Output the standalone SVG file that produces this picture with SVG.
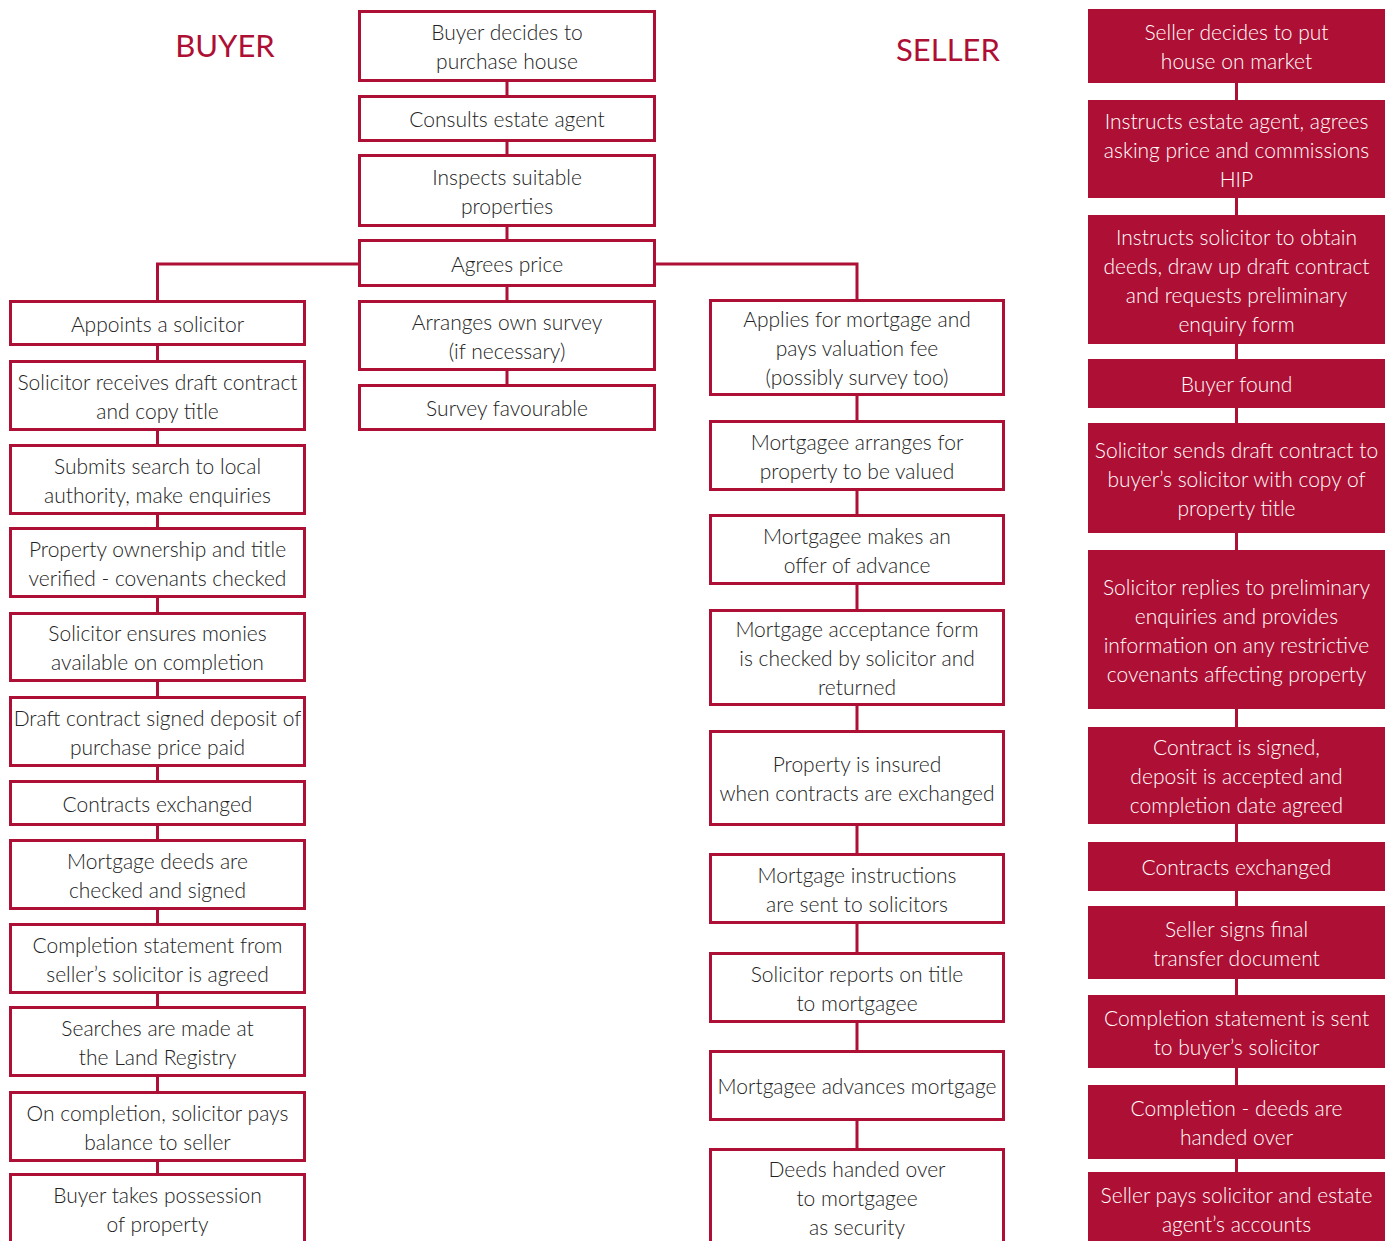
<svg xmlns="http://www.w3.org/2000/svg" width="1391" height="1241" viewBox="0 0 1391 1241">
<style>
.b{fill:#fff;stroke:#AE0F34;stroke-width:3}
.f{fill:#AE0F34}
.t{font-family:Lato,"Open Sans","DejaVu Sans",sans-serif;font-weight:300;font-size:21px;text-anchor:middle;fill:#222}
.w{fill:#fff}
.h{font-family:Lato,"Open Sans",sans-serif;font-weight:400;font-size:31px;text-anchor:middle;fill:#AE0F34}
.c{stroke:#AE0F34;stroke-width:3;fill:none}
</style>
<rect width="1391" height="1241" fill="#fff"/>
<text class="h" x="225" y="57">BUYER</text>
<text class="h" x="948" y="61">SELLER</text>
<g id="connectors">
<path class="c" d="M507 82V95M507 142V154M507 227V239M507 287V300M507 371V384"/>
<path class="c" d="M358 264H157.5V300M656 264H857V299"/>
<path class="c" d="M157.5 346V360M157.5 431V444M157.5 515V527M157.5 598V612M157.5 682V696M157.5 767V780M157.5 826V839M157.5 910V923M157.5 994V1006M157.5 1077V1091M157.5 1162V1173"/>
<path class="c" d="M857 396V420M857 491V514M857 585V609M857 706V730M857 826V853M857 924V952M857 1023V1050M857 1121V1148"/>
<path class="c" d="M1236.5 83V100M1236.5 198V215M1236.5 344V359M1236.5 408V423M1236.5 533V550M1236.5 709V727M1236.5 824V842M1236.5 891V906M1236.5 979V995M1236.5 1068V1085M1236.5 1159V1172"/>
</g>
<g id="c1"><rect class="b" x="359.5" y="11.5" width="295" height="69"/><text class="t" x="507" y="40">Buyer decides to</text><text class="t" x="507" y="69">purchase house</text></g>
<g id="c2"><rect class="b" x="359.5" y="96.5" width="295" height="44"/><text class="t" x="507" y="127">Consults estate agent</text></g>
<g id="c3"><rect class="b" x="359.5" y="155.5" width="295" height="70"/><text class="t" x="507" y="184.5">Inspects suitable</text><text class="t" x="507" y="213.5">properties</text></g>
<g id="c4"><rect class="b" x="359.5" y="240.5" width="295" height="45"/><text class="t" x="507" y="271.5">Agrees price</text></g>
<g id="c5"><rect class="b" x="359.5" y="301.5" width="295" height="68"/><text class="t" x="507" y="329.5">Arranges own survey</text><text class="t" x="507" y="358.5">(if necessary)</text></g>
<g id="c6"><rect class="b" x="359.5" y="385.5" width="295" height="44"/><text class="t" x="507" y="416">Survey favourable</text></g>

<g id="l1"><rect class="b" x="10.5" y="301.5" width="294" height="43"/><text class="t" x="157.5" y="331.5">Appoints a solicitor</text></g>
<g id="l2"><rect class="b" x="10.5" y="361.5" width="294" height="68"/><text class="t" x="157.5" y="389.5">Solicitor receives draft contract</text><text class="t" x="157.5" y="418.5">and copy title</text></g>
<g id="l3"><rect class="b" x="10.5" y="445.5" width="294" height="68"/><text class="t" x="157.5" y="473.5">Submits search to local</text><text class="t" x="157.5" y="502.5">authority, make enquiries</text></g>
<g id="l4"><rect class="b" x="10.5" y="528.5" width="294" height="68"/><text class="t" x="157.5" y="556.5">Property ownership and title</text><text class="t" x="157.5" y="585.5">verified - covenants checked</text></g>
<g id="l5"><rect class="b" x="10.5" y="613.5" width="294" height="67"/><text class="t" x="157.5" y="641">Solicitor ensures monies</text><text class="t" x="157.5" y="670">available on completion</text></g>
<g id="l6"><rect class="b" x="10.5" y="697.5" width="294" height="68"/><text class="t" x="157.5" y="725.5">Draft contract signed deposit of</text><text class="t" x="157.5" y="754.5">purchase price paid</text></g>
<g id="l7"><rect class="b" x="10.5" y="781.5" width="294" height="43"/><text class="t" x="157.5" y="811.5">Contracts exchanged</text></g>
<g id="l8"><rect class="b" x="10.5" y="840.5" width="294" height="68"/><text class="t" x="157.5" y="868.5">Mortgage deeds are</text><text class="t" x="157.5" y="897.5">checked and signed</text></g>
<g id="l9"><rect class="b" x="10.5" y="924.5" width="294" height="68"/><text class="t" x="157.5" y="952.5">Completion statement from</text><text class="t" x="157.5" y="981.5">seller’s solicitor is agreed</text></g>
<g id="l10"><rect class="b" x="10.5" y="1007.5" width="294" height="68"/><text class="t" x="157.5" y="1035.5">Searches are made at</text><text class="t" x="157.5" y="1064.5">the Land Registry</text></g>
<g id="l11"><rect class="b" x="10.5" y="1092.5" width="294" height="68"/><text class="t" x="157.5" y="1120.5">On completion, solicitor pays</text><text class="t" x="157.5" y="1149.5">balance to seller</text></g>
<g id="l12"><rect class="b" x="10.5" y="1174.5" width="294" height="80"/><text class="t" x="157.5" y="1202.5">Buyer takes possession</text><text class="t" x="157.5" y="1231.5">of property</text></g>

<g id="m1"><rect class="b" x="710.5" y="300.5" width="293" height="94"/><text class="t" x="857" y="327">Applies for mortgage and</text><text class="t" x="857" y="356">pays valuation fee</text><text class="t" x="857" y="385">(possibly survey too)</text></g>
<g id="m2"><rect class="b" x="710.5" y="421.5" width="293" height="68"/><text class="t" x="857" y="449.5">Mortgagee arranges for</text><text class="t" x="857" y="478.5">property to be valued</text></g>
<g id="m3"><rect class="b" x="710.5" y="515.5" width="293" height="68"/><text class="t" x="857" y="543.5">Mortgagee makes an</text><text class="t" x="857" y="572.5">offer of advance</text></g>
<g id="m4"><rect class="b" x="710.5" y="610.5" width="293" height="94"/><text class="t" x="857" y="637">Mortgage acceptance form</text><text class="t" x="857" y="666">is checked by solicitor and</text><text class="t" x="857" y="695">returned</text></g>
<g id="m5"><rect class="b" x="710.5" y="731.5" width="293" height="93"/><text class="t" x="857" y="772">Property is insured</text><text class="t" x="857" y="801">when contracts are exchanged</text></g>
<g id="m6"><rect class="b" x="710.5" y="854.5" width="293" height="68"/><text class="t" x="857" y="882.5">Mortgage instructions</text><text class="t" x="857" y="911.5">are sent to solicitors</text></g>
<g id="m7"><rect class="b" x="710.5" y="953.5" width="293" height="68"/><text class="t" x="857" y="981.5">Solicitor reports on title</text><text class="t" x="857" y="1010.5">to mortgagee</text></g>
<g id="m8"><rect class="b" x="710.5" y="1051.5" width="293" height="68"/><text class="t" x="857" y="1094">Mortgagee advances mortgage</text></g>
<g id="m9"><rect class="b" x="710.5" y="1149.5" width="293" height="105"/><text class="t" x="857" y="1177">Deeds handed over</text><text class="t" x="857" y="1206">to mortgagee</text><text class="t" x="857" y="1235">as security</text></g>

<g id="r1"><rect class="f" x="1088" y="9" width="297" height="74"/><text class="t w" x="1236.5" y="40">Seller decides to put</text><text class="t w" x="1236.5" y="69">house on market</text></g>
<g id="r2"><rect class="f" x="1088" y="100" width="297" height="98"/><text class="t w" x="1236.5" y="128.5">Instructs estate agent, agrees</text><text class="t w" x="1236.5" y="157.5">asking price and commissions</text><text class="t w" x="1236.5" y="186.5">HIP</text></g>
<g id="r3"><rect class="f" x="1088" y="215" width="297" height="129"/><text class="t w" x="1236.5" y="244.5">Instructs solicitor to obtain</text><text class="t w" x="1236.5" y="273.5">deeds, draw up draft contract</text><text class="t w" x="1236.5" y="302.5">and requests preliminary</text><text class="t w" x="1236.5" y="331.5">enquiry form</text></g>
<g id="r4"><rect class="f" x="1088" y="359" width="297" height="49"/><text class="t w" x="1236.5" y="392">Buyer found</text></g>
<g id="r5"><rect class="f" x="1088" y="423" width="297" height="110"/><text class="t w" x="1236.5" y="457.5">Solicitor sends draft contract to</text><text class="t w" x="1236.5" y="486.5">buyer’s solicitor with copy of</text><text class="t w" x="1236.5" y="515.5">property title</text></g>
<g id="r6"><rect class="f" x="1088" y="550" width="297" height="159"/><text class="t w" x="1236.5" y="594.5">Solicitor replies to preliminary</text><text class="t w" x="1236.5" y="623.5">enquiries and provides</text><text class="t w" x="1236.5" y="652.5">information on any restrictive</text><text class="t w" x="1236.5" y="681.5">covenants affecting property</text></g>
<g id="r7"><rect class="f" x="1088" y="727" width="297" height="97"/><text class="t w" x="1236.5" y="755">Contract is signed,</text><text class="t w" x="1236.5" y="784">deposit is accepted and</text><text class="t w" x="1236.5" y="813">completion date agreed</text></g>
<g id="r8"><rect class="f" x="1088" y="842" width="297" height="49"/><text class="t w" x="1236.5" y="875">Contracts exchanged</text></g>
<g id="r9"><rect class="f" x="1088" y="906" width="297" height="73"/><text class="t w" x="1236.5" y="936.5">Seller signs final</text><text class="t w" x="1236.5" y="965.5">transfer document</text></g>
<g id="r10"><rect class="f" x="1088" y="995" width="297" height="73"/><text class="t w" x="1236.5" y="1025.5">Completion statement is sent</text><text class="t w" x="1236.5" y="1054.5">to buyer’s solicitor</text></g>
<g id="r11"><rect class="f" x="1088" y="1085" width="297" height="74"/><text class="t w" x="1236.5" y="1116">Completion - deeds are</text><text class="t w" x="1236.5" y="1145">handed over</text></g>
<g id="r12"><rect class="f" x="1088" y="1172" width="297" height="80"/><text class="t w" x="1236.5" y="1203">Seller pays solicitor and estate</text><text class="t w" x="1236.5" y="1232">agent’s accounts</text></g>
</svg>
